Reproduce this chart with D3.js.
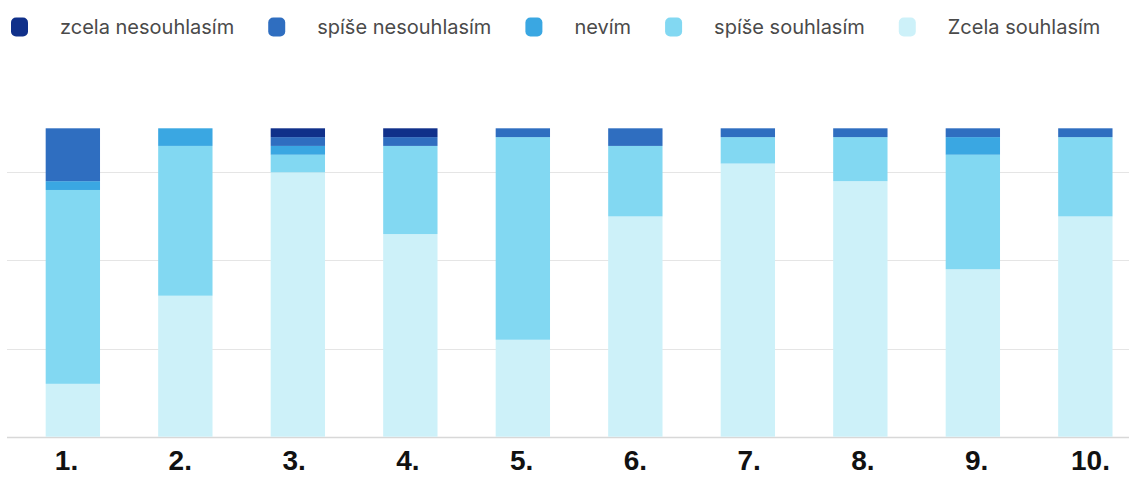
<!DOCTYPE html>
<html>
<head>
<meta charset="utf-8">
<script src="https://cdn.jsdelivr.net/npm/d3@7"></script>
<style>
  html, body { margin: 0; padding: 0; background: #fff; }
  svg { display: block; }
</style>
</head>
<body>
<svg id="chart" width="1129" height="477"></svg>
<script>
// Answers per statement (35 respondents each)
const categories = ["1.", "2.", "3.", "4.", "5.", "6.", "7.", "8.", "9.", "10."];
const seriesNames = ["zcela nesouhlasím", "spíše nesouhlasím", "nevím", "spíše souhlasím", "Zcela souhlasím"];
const zcelaNesouhlasim  = [0, 0, 1, 1, 0, 0, 0, 0, 0, 0];
const spiseNesouhlasim  = [6, 0, 1, 1, 1, 2, 1, 1, 1, 1];
const nevim             = [1, 2, 1, 0, 0, 0, 0, 0, 2, 0];
const spiseSouhlasim    = [22, 17, 2, 10, 23, 8, 3, 5, 13, 9];
const zcelaSouhlasim    = [6, 16, 30, 23, 11, 25, 31, 29, 19, 25];
const gridValues = [0, 10, 20, 30];
const seriesColors = ["#10308a", "#2f6ec0", "#3aa7e2", "#82d8f2", "#cdf1f9"];

const seriesValues = [zcelaNesouhlasim, spiseNesouhlasim, nevim, spiseSouhlasim, zcelaSouhlasim];

// Rows for d3.stack; stacking starts with "Zcela souhlasím" at the bottom
const rows = categories.map((c, i) => {
  const r = { cat: c };
  seriesNames.forEach((s, k) => { r[s] = seriesValues[k][i]; });
  return r;
});
const stackKeys = seriesNames.slice().reverse();
const stacked = d3.stack().keys(stackKeys)(rows);

const color = d3.scaleOrdinal().domain(seriesNames).range(seriesColors);

const svg = d3.select("#chart");

const x = d3.scaleBand()
  .domain(categories)
  .range([16.6, 1141.6])
  .paddingInner(0.517)
  .paddingOuter(0.2585);

// The label row is spaced a little wider than the bars
const xLabel = d3.scalePoint()
  .domain(categories)
  .range([66.5, 1090.5]);

const y = d3.scaleLinear()
  .domain([0, 35])
  .range([436.7, 128.3]);

// Horizontal gridlines
svg.append("g")
  .selectAll("line")
  .data(gridValues)
  .join("line")
  .attr("x1", 7)
  .attr("x2", 1129)
  .attr("y1", d => Math.round(y(d)) + 0.5)
  .attr("y2", d => Math.round(y(d)) + 0.5)
  .attr("stroke", d => d === 0 ? "#d8d8d8" : "#e5e5e5")
  .attr("stroke-width", d => d === 0 ? 1.5 : 1.2);

// Stacked bars
svg.append("g")
  .selectAll("g")
  .data(stacked)
  .join("g")
  .attr("fill", d => color(d.key))
  .selectAll("rect")
  .data(d => d)
  .join("rect")
  .attr("x", d => x(d.data.cat))
  .attr("width", x.bandwidth())
  .attr("y", d => y(d[1]))
  .attr("height", d => y(d[0]) - y(d[1]));

// Category labels under the bars
svg.append("g")
  .selectAll("text")
  .data(categories)
  .join("text")
  .attr("x", d => xLabel(d))
  .attr("y", 470)
  .attr("text-anchor", "middle")
  .attr("font-family", "'Liberation Sans', Arial, sans-serif")
  .attr("font-weight", "bold")
  .attr("font-size", 28)
  .attr("fill", "#111")
  .text(d => d);

// Legend
const legend = svg.append("g");
let lx = 11;
seriesNames.forEach((name, i) => {
  const item = legend.append("g").attr("transform", `translate(${lx},0)`);
  item.append("rect")
    .attr("x", 0).attr("y", 17.5)
    .attr("width", 17).attr("height", 19)
    .attr("rx", 5)
    .attr("fill", color(name));
  const t = item.append("text")
    .attr("x", 49)
    .attr("y", 27)
    .attr("dominant-baseline", "central")
    .attr("font-family", "Inter, 'Noto Sans', sans-serif")
    .attr("font-size", 20)
    .attr("fill", "#4a4a4a")
    .text(name);
  lx += 49 + t.node().getComputedTextLength() + 34;
});
</script>
</body>
</html>
